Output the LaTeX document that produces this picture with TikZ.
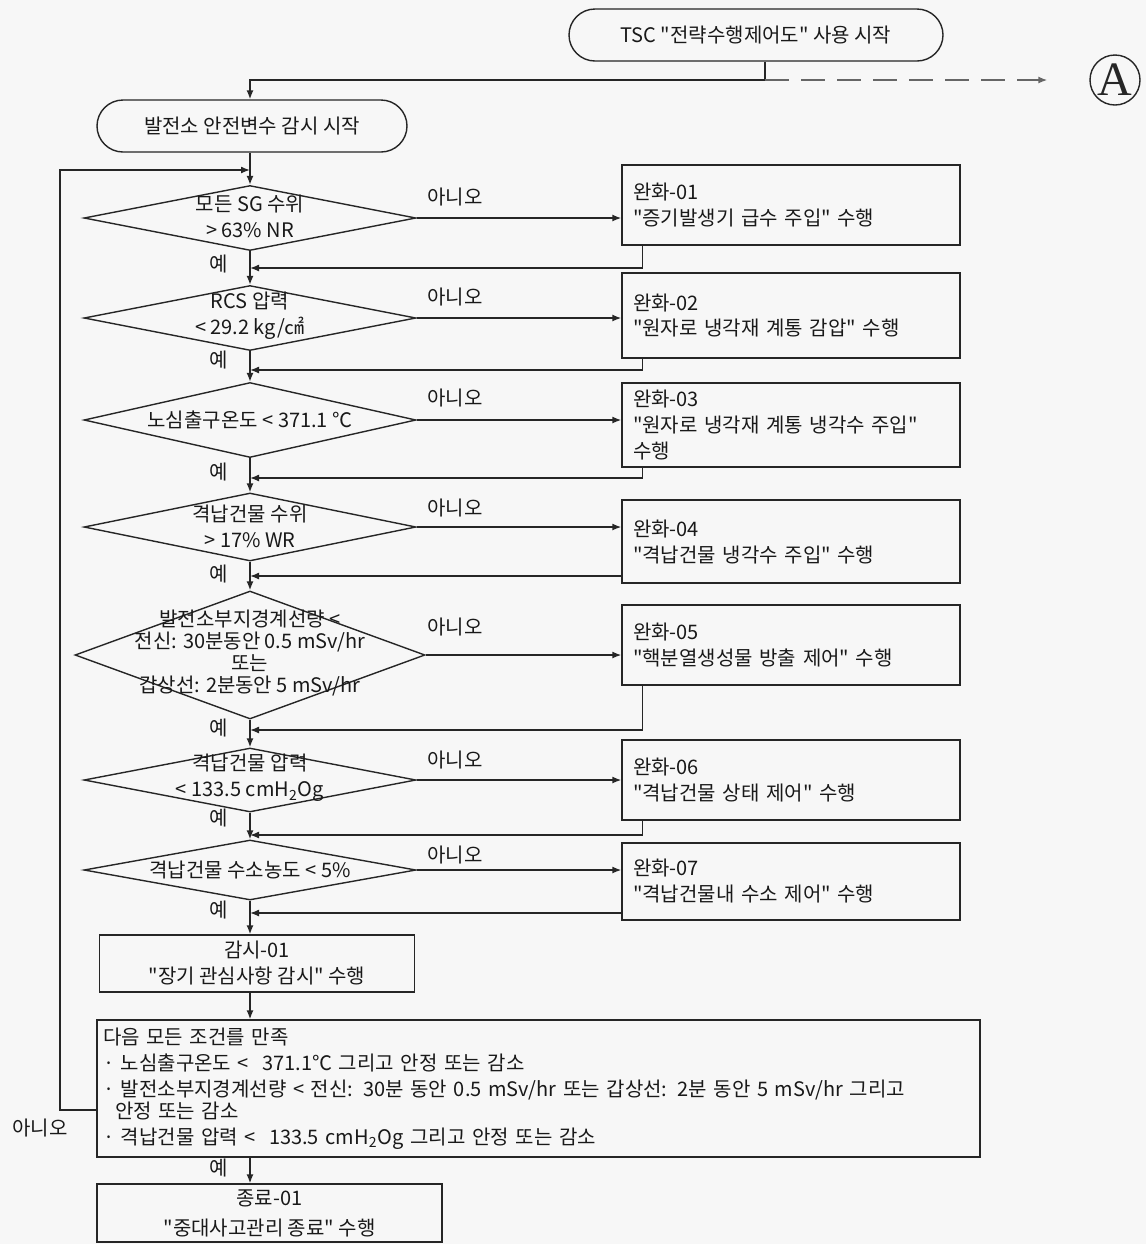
\documentclass[tikz,border=0pt]{standalone}
\usepackage{fontspec}
\setmainfont{Noto Sans CJK KR}[Ligatures=TeXOff]
\newfontfamily\circfont{Liberation Serif}
\usetikzlibrary{arrows.meta,shapes.geometric,shapes.misc}

\tikzset{
  flow/.style={line width=0.7pt, draw=black!85},
  arr/.style={flow, -{Latex[length=4.5pt,width=3.5pt]}},
  txt/.style={font=\fontsize{10}{13}\selectfont, text=black!90},
  lbl/.style={txt, inner sep=0pt},
  startbox/.style={txt, flow, rounded rectangle, minimum height=26pt, inner sep=0pt},
  dia/.style={flow, diamond, inner sep=0pt},
  actbox/.style={txt, flow, rectangle, minimum width=169pt, text width=158pt, inner xsep=5.5pt, inner ysep=1pt, align=left},
  midbox/.style={txt, flow, rectangle, inner sep=1pt, align=center},
  circ/.style={flow, circle, minimum size=25pt, inner sep=0pt, text=black!85, font=\circfont\fontsize{24}{24}\selectfont}
}

\begin{document}
\begin{tikzpicture}[x=0.5pt, y=-0.5pt]
        % 배경
        \fill[gray!6] (0,0) rectangle (1146,1244);
        \useasboundingbox (0,0) rectangle (1146,1244);

        % 시작
        \node[startbox, minimum width=187pt] (tsc) at (756,35) {TSC "전략수행제어도" 사용 시작};
        \node[circ] (circA) at (1115,80) {A};
        \node[startbox, minimum width=155pt] (plant) at (252,126) {발전소 안전변수 감시 시작};
        \coordinate (j0) at (765,80);
        \draw[flow] (tsc.south -| j0) -- (j0);
        \draw[arr] (j0) -| (plant.north -| 250,0);
        \draw[arr, dash pattern=on 12pt off 6pt, draw=black!60, shorten >=21pt] (j0) -- (circA.west);

        % 판단
        \node[dia, minimum width=166pt, minimum height=32.5pt] (d1) at (250,218) {};
        \node[lbl, align=center] (t1) at (250,216) {모든 SG 수위\\> 63\% NR};
        \node[dia, minimum width=166pt, minimum height=32.5pt] (d2) at (250,318) {};
        \node[lbl, align=center] (t2) at (250,316) {RCS 압력\\< 29.2 kg/㎠};
        \node[dia, minimum width=166pt, minimum height=37.5pt] (d3) at (250,420) {};
        \node[lbl] (t3) at (250,420) {노심출구온도 < 371.1 ℃};
        \node[dia, minimum width=166pt, minimum height=34pt] (d4) at (250,527) {};
        \node[lbl, align=center] (t4) at (250,526) {격납건물 수위\\> 17\% WR};
        \node[dia, minimum width=175pt, minimum height=64pt] (d5) at (250,655) {};
        \node[lbl, align=center, font=\fontsize{10}{11}\selectfont] (t5) at (250,653) {발전소부지경계선량 <\\전신: 30분동안 0.5 mSv/hr\\또는\\갑상선: 2분동안 5 mSv/hr};
        \node[dia, minimum width=166pt, minimum height=32pt] (d6) at (250,780) {};
        \node[lbl, align=center] (t6) at (250,778) {격납건물 압력\\< 133.5 cmH\textsubscript{2}Og};
        \node[dia, minimum width=166pt, minimum height=30pt] (d7) at (250,870) {};
        \node[lbl] (t7) at (250,870) {격납건물 수소농도 < 5\%};

        % 완화 조치
        \node[actbox, minimum height=40pt] (b1) at (791,205) {완화-01\\"증기발생기 급수 주입" 수행};
        \node[actbox, minimum height=42.5pt] (b2) at (791,315.5) {완화-02\\"원자로 냉각재 계통 감압" 수행};
        \node[actbox, minimum height=42pt] (b3) at (791,425) {완화-03\\"원자로 냉각재 계통 냉각수 주입"\\수행};
        \node[actbox, minimum height=41.5pt] (b4) at (791,541.5) {완화-04\\"격납건물 냉각수 주입" 수행};
        \node[actbox, minimum height=40pt] (b5) at (791,645) {완화-05\\"핵분열생성물 방출 제어" 수행};
        \node[actbox, minimum height=40pt] (b6) at (791,780) {완화-06\\"격납건물 상태 제어" 수행};
        \node[actbox, minimum height=38.5pt] (b7) at (791,881.5) {완화-07\\"격납건물내 수소 제어" 수행};

        % 감시, 조건, 종료
        \node[midbox, minimum width=157.5pt, minimum height=28.5pt] (watch) at (257,963.5) {감시-01\\"장기 관심사항 감시" 수행};
        \node[actbox, minimum width=441.5pt, text width=435.5pt, inner xsep=3pt, minimum height=68.5pt] (cond) at (538.5,1088.5)
          {다음 모든 조건를 만족\\
           · 노심출구온도 <\ \ 371.1℃ 그리고 안정 또는 감소\\
           · 발전소부지경계선량 < 전신: 30분 동안 0.5 mSv/hr 또는 갑상선: 2분 동안 5 mSv/hr 그리고\\[-2pt]
           \hspace*{6pt}안정 또는 감소\\
           · 격납건물 압력 <\ \ 133.5 cmH\textsubscript{2}Og 그리고 안정 또는 감소};
        \node[midbox, minimum width=172.5pt, minimum height=29pt] (fin) at (269.5,1213) {종료-01\\[2pt]"중대사고관리 종료" 수행};

        % 합류점
        \coordinate (m0) at (250,170);
        \foreach \i/\y in {1/268, 2/370, 3/478, 4/576, 5/730, 6/835, 7/913}
            \coordinate (m\i) at (250,\y);

        % 예 방향
        \draw[arr] (plant.south -| d1.north) -- (d1.north);
        \foreach \a/\b in {d1/d2, d2/d3, d3/d4, d4/d5, d5/d6, d6/d7}
            \draw[arr] (\a.south) -- (\b.north);
        \draw[arr] (d7.south) -- (d7.south |- watch.north);
        \draw[arr] (d7.south |- watch.south) -- (d7.south |- cond.north);
        \draw[arr] (d7.south |- cond.south) -- (d7.south |- fin.north);

        % 아니오 방향
        \foreach \i in {1,...,7}
            \draw[arr] (d\i.east) -- (d\i.east -| b\i.west);
        \foreach \i in {1,2,3,5,6}
            \draw[arr] ([xshift=10.5pt]b\i.south west) |- (m\i);
        \foreach \i in {4,7}
            \draw[arr] (b\i.west |- m\i) -- (m\i);

        % 되돌림
        \coordinate (lb) at (60,1110);
        \draw[arr] (cond.west |- lb) -- (lb) |- (m0);

        % 라벨
        \foreach \i/\y in {1/197, 2/297, 3/398, 4/508, 5/627, 6/760, 7/855}
            \node[lbl] (no\i) at (455,\y) {아니오};
        \node[lbl] (no8) at (40,1128) {아니오};
        \foreach \i/\y in {1/264, 2/360, 3/472, 4/574, 5/728, 6/818, 7/910, 8/1168}
            \node[lbl] (yes\i) at (219,\y) {예};
\end{tikzpicture}
\end{document}
